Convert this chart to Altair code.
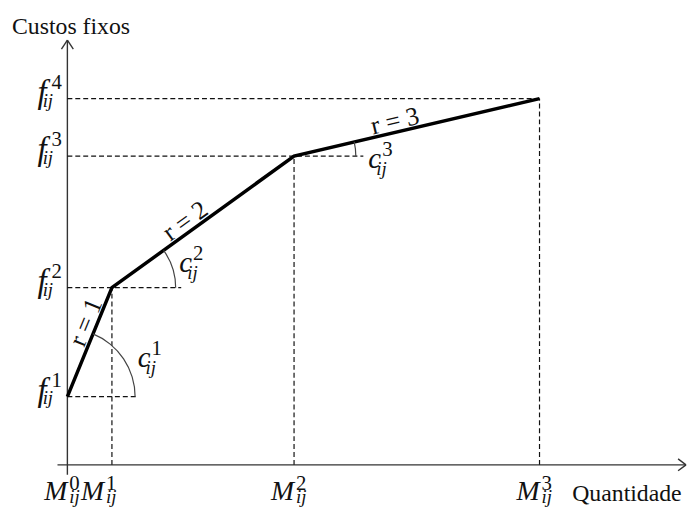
import math
import altair as alt
import pandas as pd

# ---------------- data ----------------
M_SUP = ["0", "1", "2", "3"]
M_VALUES = [0.0, 4.5, 22.9, 47.7]      # breakpoints M^0 .. M^3 (quantity axis)
F_SUP = ["1", "2", "3", "4"]
F_VALUES = [6.9, 17.9, 31.2, 37.0]     # fixed costs f^1 .. f^4
SEGMENT_LABELS = ["r = 1", "r = 2", "r = 3"]
C_SUP = ["1", "2", "3"]
X_TITLE = "Quantidade"
Y_TITLE = "Custos fixos"

# ---------------- layout / style constants ----------------
W, H = 686, 499
PX = 10.0                       # pixels per data unit on both axes
X_DOM = [-6.0, (W - 60) / PX]
Y_DOM = [(459 - H) / PX, 459 / PX]
FONT = "'Liberation Serif', 'Times New Roman', Times, 'DejaVu Serif', serif"
INK = "#111111"
EXT = 7.0                       # length of the short dashed guides (data units)

xs = alt.Scale(domain=X_DOM, nice=False, zero=False)
ys = alt.Scale(domain=Y_DOM, nice=False, zero=False)


def X(f):
    return alt.X(f, type="quantitative", scale=xs, axis=None)


def Y(f):
    return alt.Y(f, type="quantitative", scale=ys, axis=None)


layers = []

# ---- axes with arrow heads ----
x_end = X_DOM[1] - 0.1
y_top = 42.9
axes_df = pd.DataFrame({
    "x":  [0.0, 0.0, 0.0, -1.0, x_end, x_end],
    "y":  [-1.0, y_top, y_top, 0.0, 0.0, 0.0],
    "x2": [0.0, -0.6, 0.6, x_end, x_end - 0.8, x_end - 0.8],
    "y2": [y_top, y_top - 0.9, y_top - 0.9, 0.0, 0.6, -0.6],
})
layers.append(
    alt.Chart(axes_df).mark_rule(color="#333333", strokeWidth=1.4)
    .encode(x=X("x"), y=Y("y"), x2="x2", y2="y2")
)

# ---- dashed guides ----
n = len(F_VALUES)
h_df = pd.DataFrame({
    "x": [0.0] * n,
    "x2": [M_VALUES[k] + EXT if k < n - 1 else M_VALUES[k] for k in range(n)],
    "y": F_VALUES,
    "y2": F_VALUES,
})
v_df = pd.DataFrame({
    "x": M_VALUES[1:],
    "x2": M_VALUES[1:],
    "y": [0.0] * (n - 1),
    "y2": F_VALUES[1:],
})
for d in (h_df, v_df):
    layers.append(
        alt.Chart(d).mark_rule(color="#111111", strokeWidth=1.2, strokeDash=[5, 3])
        .encode(x=X("x"), y=Y("y"), x2="x2", y2="y2")
    )

# ---- piecewise linear cost curve ----
curve_df = pd.DataFrame({"x": M_VALUES, "y": F_VALUES, "i": list(range(n))})
layers.append(
    alt.Chart(curve_df).mark_line(color="black", strokeWidth=3.5, strokeJoin="miter")
    .encode(x=X("x"), y=Y("y"), order="i:Q")
)

# ---- angle arcs, segment labels, slope labels ----
arc_r = [69, 65, 63]
seg_dx = [17, -14, -20]
c_off = [(71, -30), (68, -16), (75, 12)]
for k in range(n - 1):
    x0, y0 = M_VALUES[k], F_VALUES[k]
    x1, y1 = M_VALUES[k + 1], F_VALUES[k + 1]
    ang = math.atan2(y1 - y0, x1 - x0)          # same px/unit on both axes
    pt = pd.DataFrame({"x": [x0], "y": [y0]})
    layers.append(
        alt.Chart(pt).mark_arc(
            radius=arc_r[k], radius2=arc_r[k] - 1.2,
            theta=math.pi / 2 - ang, theta2=math.pi / 2,
            color="#444444",
        ).encode(x=X("x"), y=Y("y"))
    )
    mid = pd.DataFrame({"x": [(x0 + x1) / 2], "y": [(y0 + y1) / 2],
                        "t": [SEGMENT_LABELS[k]]})
    layers.append(
        alt.Chart(mid).mark_text(
            font=FONT, fontSize=26, color=INK, align="center",
            baseline="alphabetic", angle=360 - math.degrees(ang),
            dx=seg_dx[k], dy=-3,
        ).encode(x=X("x"), y=Y("y"), text="t:N")
    )
    cdx, cdy = c_off[k]
    cl = pd.DataFrame({"x": [x0], "y": [y0], "m": ["c"], "s": [C_SUP[k]], "b": ["ij"]})
    layers.append(
        alt.Chart(cl).mark_text(font=FONT, fontSize=29, fontStyle="italic", color=INK,
                                align="left", baseline="alphabetic", dx=cdx, dy=cdy)
        .encode(x=X("x"), y=Y("y"), text="m:N")
    )
    layers.append(
        alt.Chart(cl).mark_text(font=FONT, fontSize=21, color=INK,
                                align="left", baseline="alphabetic",
                                dx=cdx + 14, dy=cdy - 12)
        .encode(x=X("x"), y=Y("y"), text="s:N")
    )
    layers.append(
        alt.Chart(cl).mark_text(font=FONT, fontSize=19, fontStyle="italic", color=INK,
                                align="left", baseline="alphabetic",
                                dx=cdx + 8, dy=cdy + 7)
        .encode(x=X("x"), y=Y("y"), text="b:N")
    )

# ---- f labels on the vertical axis ----
f_df = pd.DataFrame({"x": [0.0] * n, "y": F_VALUES, "m": ["f"] * n,
                     "s": F_SUP, "b": ["ij"] * n})
layers.append(
    alt.Chart(f_df).mark_text(font=FONT, fontSize=33, fontStyle="italic", color=INK,
                              align="right", baseline="alphabetic", dx=-21, dy=4)
    .encode(x=X("x"), y=Y("y"), text="m:N")
)
layers.append(
    alt.Chart(f_df).mark_text(font=FONT, fontSize=21, color=INK,
                              align="left", baseline="alphabetic", dx=-16, dy=-10)
    .encode(x=X("x"), y=Y("y"), text="s:N")
)
layers.append(
    alt.Chart(f_df).mark_text(font=FONT, fontSize=19, fontStyle="italic", color=INK,
                              align="left", baseline="alphabetic", dx=-25, dy=8)
    .encode(x=X("x"), y=Y("y"), text="b:N")
)

# ---- M labels on the horizontal axis ----
m_shift = [0, -8, 0, 0]
for k in range(n):
    md = pd.DataFrame({"x": [M_VALUES[k]], "y": [0.0], "m": ["M"],
                       "s": [M_SUP[k]], "b": ["ij"]})
    s = m_shift[k]
    layers.append(
        alt.Chart(md).mark_text(font=FONT, fontSize=28, fontStyle="italic", color=INK,
                                align="right", baseline="alphabetic", dx=s, dy=35)
        .encode(x=X("x"), y=Y("y"), text="m:N")
    )
    layers.append(
        alt.Chart(md).mark_text(font=FONT, fontSize=21, color=INK,
                                align="left", baseline="alphabetic", dx=s + 2, dy=25)
        .encode(x=X("x"), y=Y("y"), text="s:N")
    )
    layers.append(
        alt.Chart(md).mark_text(font=FONT, fontSize=19, fontStyle="italic", color=INK,
                                align="left", baseline="alphabetic", dx=s + 2, dy=39)
        .encode(x=X("x"), y=Y("y"), text="b:N")
    )

# ---- axis titles ----
tdf = pd.DataFrame({"t": [Y_TITLE], "u": [X_TITLE]})
layers.append(
    alt.Chart(tdf).mark_text(font=FONT, fontSize=24, color=INK, align="left",
                             baseline="alphabetic")
    .encode(x=alt.value(4), y=alt.value(24), text="t:N")
)
layers.append(
    alt.Chart(tdf).mark_text(font=FONT, fontSize=24, color=INK, align="left",
                             baseline="alphabetic")
    .encode(x=alt.value(570), y=alt.value(496), text="u:N")
)

chart = alt.layer(*layers).properties(
    width=W, height=H, padding=0,
    autosize=alt.AutoSizeParams(type="none"),
    background="white",
).configure_view(stroke=None)

chart.save("out.html", embed_options={"renderer": "svg", "actions": False})
